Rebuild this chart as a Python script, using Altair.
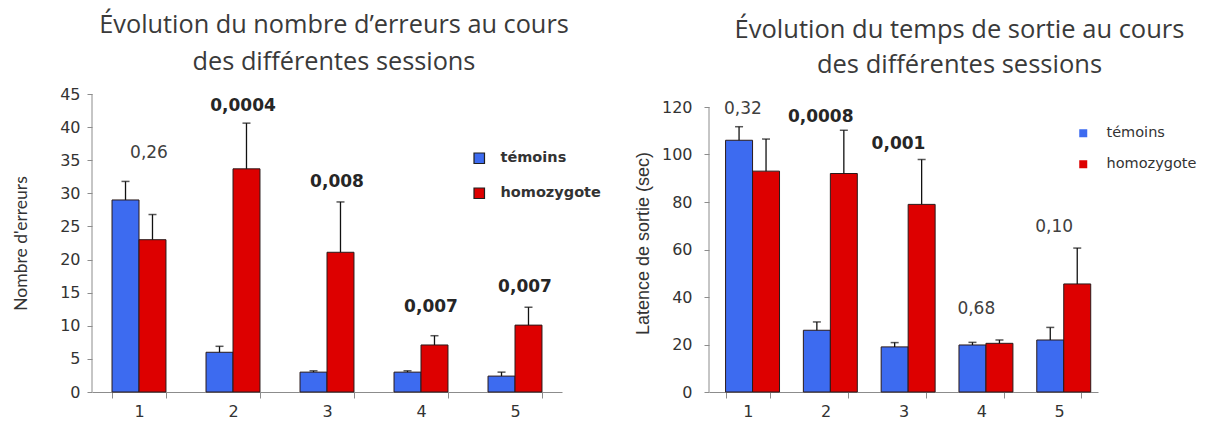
import altair as alt
import pandas as pd

sessions = ["1", "2", "3", "4", "5"]
groups = ["témoins", "homozygote"]
colors = ["#3D6BF0", "#DD0000"]

# Nombre d'erreurs (moyenne et erreur standard)
err_temoins = [29.0, 6.0, 3.0, 3.0, 2.4]
err_temoins_se = [2.8, 0.9, 0.2, 0.2, 0.6]
err_homo = [23.0, 33.7, 21.1, 7.1, 10.1]
err_homo_se = [3.8, 6.9, 7.6, 1.4, 2.7]
err_pvalues = ["0,26", "0,0004", "0,008", "0,007", "0,007"]
err_signif = [False, True, True, True, True]
err_label_level = [36.1, 43.2, 31.7, 12.8, 15.9]
err_axis_max = 45
err_axis_step = 5

# Latence de sortie en secondes (moyenne et erreur standard)
lat_temoins = [106.0, 26.0, 19.0, 19.8, 21.9]
lat_temoins_se = [5.7, 3.5, 1.8, 1.1, 5.3]
lat_homo = [93.0, 92.0, 79.0, 20.5, 45.5]
lat_homo_se = [13.5, 18.2, 18.9, 1.4, 15.1]
lat_pvalues = ["0,32", "0,0008", "0,001", "0,68", "0,10"]
lat_signif = [False, True, True, False, False]
lat_label_level = [119.2, 115.8, 104.4, 35.0, 69.5]
lat_axis_max = 120
lat_axis_step = 20


def bars_frame(t, t_se, h, h_se):
    rows = []
    for i, s in enumerate(sessions):
        rows.append({"session": s, "groupe": groups[0], "valeur": t[i], "haut": t[i] + t_se[i]})
        rows.append({"session": s, "groupe": groups[1], "valeur": h[i], "haut": h[i] + h_se[i]})
    return pd.DataFrame(rows)


def labels_frame(pv, sig, level):
    return pd.DataFrame({"session": sessions, "p": pv, "sig": sig, "niveau": level})


def panel(bars, labels, axis_max, axis_step, scale_max, w, h, title, title_cfg,
          ytitle, ytitle_cfg, label_pad, legend_cfg, label_dx):
    xscale = alt.Scale(domain=sessions, paddingInner=0.426, paddingOuter=0.213)
    yscale = alt.Scale(domain=[0, scale_max], nice=False, zero=True)
    xaxis = alt.Axis(title=None, labelAngle=0, tickBand="extent", domainColor="#8c8c8c",
                     tickColor="#8c8c8c", tickSize=6, labelFont="DejaVu Sans",
                     labelFontSize=16, labelColor="#333333", labelPadding=5, grid=False)
    yaxis = alt.Axis(title=ytitle, values=list(range(0, axis_max + 1, axis_step)),
                     grid=False, domain=False, tickColor="#8c8c8c", tickSize=5,
                     labelFont="DejaVu Sans", labelFontSize=16, labelColor="#333333",
                     labelPadding=label_pad, titleFontWeight="normal",
                     titleColor="#333333", labelOverlap=False, **ytitle_cfg)
    x = alt.X("session:N", scale=xscale, axis=xaxis, sort=sessions)
    xo = alt.XOffset("groupe:N", sort=groups, scale=alt.Scale(domain=groups, paddingInner=0))

    def ych(field):
        return alt.Y(field, scale=yscale, axis=yaxis)

    base = alt.Chart(bars)
    bar = base.mark_bar(stroke="#2a1a1a", strokeWidth=1).encode(
        x=x, xOffset=xo, y=ych("valeur:Q"),
        color=alt.Color("groupe:N", sort=groups,
                        scale=alt.Scale(domain=groups, range=colors),
                        legend=alt.Legend(**legend_cfg)),
    )
    whisker = base.mark_rule(color="#111111", strokeWidth=1.3).encode(
        x=x, xOffset=xo, y=ych("valeur:Q"), y2="haut:Q")
    cap = base.mark_tick(color="#111111", thickness=1.5, size=8).encode(
        x=x, xOffset=xo, y=ych("haut:Q"))

    # vertical axis line, from 0 to the last labelled value
    axis_line = alt.Chart(pd.DataFrame({"bas": [0], "sommet": [axis_max]})).mark_rule(
        color="#8c8c8c", strokeWidth=1).encode(
        x=alt.value(0), y=ych("bas:Q"), y2="sommet:Q")

    lab = alt.Chart(labels)
    txt_norm = lab.transform_filter("!datum.sig").mark_text(
        font="DejaVu Sans", fontSize=17, color="#404040", dx=label_dx).encode(
        x=x, y=ych("niveau:Q"), text="p:N")
    txt_bold = lab.transform_filter("datum.sig").mark_text(
        font="DejaVu Sans", fontSize=17, fontWeight="bold", color="#262626",
        dx=label_dx).encode(
        x=x, y=ych("niveau:Q"), text="p:N")

    return alt.layer(axis_line, bar, whisker, cap, txt_norm, txt_bold).properties(
        width=w, height=h, title=alt.TitleParams(text=title, **title_cfg))


left = panel(
    bars_frame(err_temoins, err_temoins_se, err_homo, err_homo_se),
    labels_frame(err_pvalues, err_signif, err_label_level),
    err_axis_max, err_axis_step, err_axis_max, 470, 298,
    ["Évolution du nombre d’erreurs au cours", "des différentes sessions"],
    dict(font="Open Sans", fontSize=25.3, fontWeight="normal", color="#3a3a3a",
         lineHeight=37, dx=7, offset=11),
    "Nombre d'erreurs",
    dict(titleFont="Lato", titleFontSize=17.5, titlePadding=29),
    7,
    dict(title=None, orient="none", legendX=380, legendY=57, symbolType="square",
         symbolSize=110, symbolStrokeColor="#202020", symbolStrokeWidth=1.2,
         labelFont="DejaVu Sans", labelFontSize=14.5, labelFontWeight="bold",
         labelColor="#333333", labelOffset=14, rowPadding=19, padding=0),
    10,
)

right = panel(
    bars_frame(lat_temoins, lat_temoins_se, lat_homo, lat_homo_se),
    labels_frame(lat_pvalues, lat_signif, lat_label_level),
    lat_axis_max, lat_axis_step, lat_axis_max * 298 / 285, 389, 298,
    ["Évolution du  temps de sortie au cours", "des différentes sessions"],
    dict(font="Open Sans", fontSize=25.5, fontWeight="normal", color="#3a3a3a",
         lineHeight=35, dx=56, offset=16),
    "Latence de sortie (sec)",
    dict(titleFont="Liberation Sans", titleFontSize=18, titlePadding=9),
    12,
    dict(title=None, orient="none", legendX=367, legendY=32, symbolType="square",
         symbolSize=64, symbolStrokeWidth=0,
         labelFont="DejaVu Sans", labelFontSize=14.5, labelFontWeight="normal",
         labelColor="#333333", labelOffset=16, rowPadding=16, padding=0),
    -5,
)

chart = alt.hconcat(left, right, spacing=33).resolve_scale(
    color="independent").resolve_legend(color="independent").properties(
    padding={"left": 12, "top": 12, "right": 0, "bottom": 0},
    background="white",
).configure_view(stroke=None)

chart.save("out.html", embed_options={"renderer": "svg", "actions": False})
